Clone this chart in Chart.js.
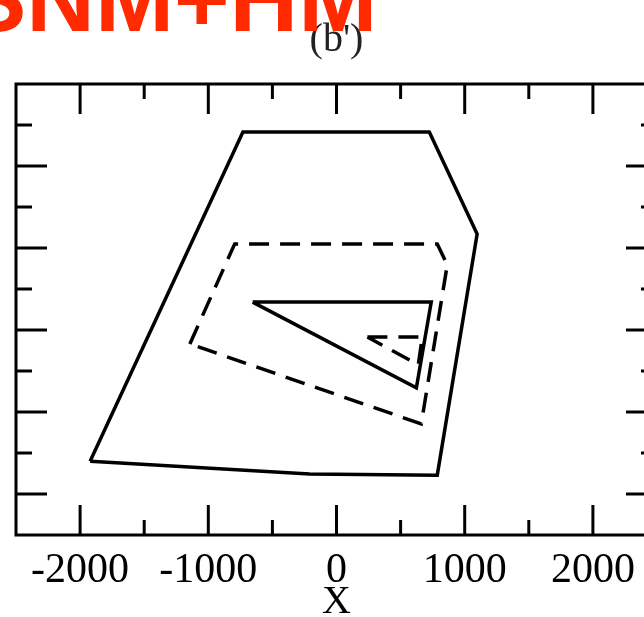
<!DOCTYPE html>
<html>
<head>
<meta charset="utf-8">
<script src="https://cdn.jsdelivr.net/npm/chart.js@4/dist/chart.umd.min.js"></script>
<style>
  html, body { margin: 0; padding: 0; background: #fff; overflow: hidden; width: 644px; height: 617px; }
  canvas { display: block; }
</style>
</head>
<body>
<canvas id="c" width="680" height="617"></canvas>
<script>
// Tick positions along each axis
const xLabelTicks = [-2000, -1000, 0, 1000, 2000];
const xMinorTicks = [-1500, -500, 500, 1500];
const yMajorTicks = [0, 200, 400, 600, 800];
const yMinorTicks = [100, 300, 500, 700, 900];

// Contours (closed polygons), x and y listed separately
const outerX = [-1922, -730, 724, 1097, 786, -210, -1922];
const outerY = [80, 883, 883, 634, 46, 49, 80];

const middleX = [-1144, -794, 786, 864, 661, -1144];
const middleY = [366, 610, 610, 559, 171, 366];

const innerX = [-654, 739, 623, -654];
const innerY = [468, 468, 259, 468];

const coreX = [241, 669, 638, 241];
const coreY = [383, 383, 315, 383];

const toPoints = (xs, ys) => xs.map((x, i) => ({ x, y: ys[i] }));

const serif = '"Liberation Serif", "Times New Roman", serif';

const frame = {
  id: 'frame',
  afterDraw(chart) {
    const { ctx, chartArea: a, scales: { x, y } } = chart;
    ctx.save();
    ctx.strokeStyle = '#000';
    ctx.lineCap = 'butt';
    const seg = (x1, y1, x2, y2, w) => {
      ctx.lineWidth = w;
      ctx.beginPath(); ctx.moveTo(x1, y1); ctx.lineTo(x2, y2); ctx.stroke();
    };
    // inward ticks on all four sides
    xLabelTicks.forEach(v => {
      const p = x.getPixelForValue(v);
      seg(p, a.top, p, a.top + 30, 3);
      seg(p, a.bottom, p, a.bottom - 30, 3);
    });
    xMinorTicks.forEach(v => {
      const p = x.getPixelForValue(v);
      seg(p, a.top, p, a.top + 15, 3);
      seg(p, a.bottom, p, a.bottom - 15, 3);
    });
    yMajorTicks.forEach(v => {
      const p = y.getPixelForValue(v);
      seg(a.left, p, a.left + 31, p, 3);
      seg(a.right, p, a.right - 31, p, 3);
    });
    yMinorTicks.forEach(v => {
      const p = y.getPixelForValue(v);
      seg(a.left, p, a.left + 16, p, 3);
      seg(a.right, p, a.right - 16, p, 3);
    });
    // plot frame
    ctx.lineWidth = 3;
    ctx.strokeRect(a.left, a.top, a.right - a.left, a.bottom - a.top);

    // panel label
    ctx.fillStyle = '#222';
    ctx.font = '40px ' + serif;
    ctx.textAlign = 'center';
    ctx.textBaseline = 'alphabetic';
    ctx.fillText("(b')", (a.left + a.right) / 2, 51);

    // model name
    ctx.fillStyle = '#ff2a00';
    ctx.font = 'bold 95px "Liberation Sans", Arial, sans-serif';
    ctx.textAlign = 'left';
    ctx.fillText('SNM+HM', -37, 31);
    ctx.restore();
  }
};

const lineStyle = (dashed) => ({
  showLine: true,
  borderColor: '#000',
  borderWidth: 3.5,
  pointRadius: 0,
  fill: false,
  tension: 0,
  borderDash: dashed ? [20, 11] : [],
  borderJoinStyle: 'miter'
});

new Chart(document.getElementById('c'), {
  type: 'scatter',
  data: {
    datasets: [
      { data: toPoints(outerX, outerY), ...lineStyle(false) },
      { data: toPoints(middleX, middleY), ...lineStyle(true) },
      { data: toPoints(innerX, innerY), ...lineStyle(false) },
      { data: toPoints(coreX, coreY), ...lineStyle(true) }
    ]
  },
  options: {
    responsive: false,
    animation: false,
    devicePixelRatio: 1,
    layout: { padding: { left: 16, right: 23, top: 84, bottom: 0 } },
    plugins: { legend: { display: false }, tooltip: { enabled: false }, title: { display: false } },
    scales: {
      x: {
        type: 'linear',
        min: -2500,
        max: 2500,
        afterFit(scale) { scale.height = 82; },
        afterBuildTicks(scale) { scale.ticks = xLabelTicks.map(v => ({ value: v })); },
        grid: { display: false, drawTicks: false },
        border: { display: false },
        ticks: {
          color: '#000',
          padding: 11,
          maxRotation: 0,
          autoSkip: false,
          font: { family: serif, size: 42 },
          callback: (v) => String(v)
        },
        title: {
          display: true,
          text: 'X',
          color: '#000',
          padding: 0,
          font: { family: serif, size: 40, lineHeight: 0.75 }
        }
      },
      y: {
        type: 'linear',
        min: -100,
        max: 1000,
        display: false
      }
    }
  },
  plugins: [frame]
});
</script>
</body>
</html>
